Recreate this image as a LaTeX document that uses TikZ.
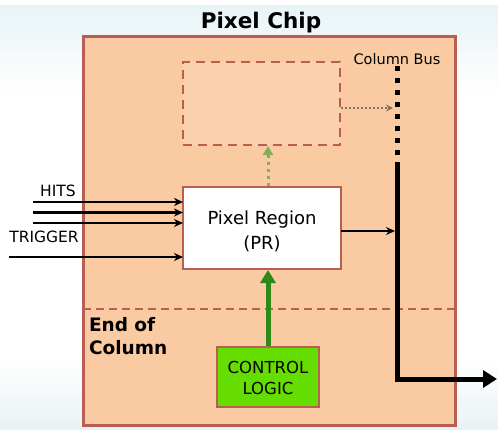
\documentclass[tikz,border=0pt]{standalone}
\usepackage{fontspec}
\setmainfont{DejaVu Sans}
\usetikzlibrary{arrows.meta}
\definecolor{chipfill}{RGB}{250,202,162}
\definecolor{chipborder}{RGB}{184,94,82}
\definecolor{dboxfill}{RGB}{251,208,172}
\definecolor{ctrlgreen}{RGB}{102,221,0}
\definecolor{arrgreen}{RGB}{46,138,22}
\definecolor{dotgreen}{RGB}{132,174,92}
\definecolor{dotgray}{RGB}{135,112,100}
\definecolor{bgblue}{RGB}{232,243,246}
\begin{document}
\begin{tikzpicture}[x=1pt,y=-1pt,
  boxstyle/.style={draw=chipborder, line width=2.5pt, inner sep=0pt, outer sep=0pt},
  sig/.style={line width=2.2pt, -{Stealth[length=9pt,width=8pt]}},
  busline/.style={line width=5pt},
  lbl/.style={inner sep=0pt, outer sep=0pt},
  dashln/.style={draw=chipborder, line width=2.5pt, dash pattern=on 8pt off 5pt}]
\useasboundingbox (0,0) rectangle (498,429);
\shade[top color=bgblue, bottom color=white] (0,5) rectangle (498,95);
\shade[top color=white, bottom color=bgblue] (0,360) rectangle (498,429);
% chip
\node[boxstyle, line width=3pt, fill=chipfill, minimum width=372pt, minimum height=389pt] (chip) at (269,230.5) {};
\node[lbl, font=\bfseries\fontsize{21.5}{24}\selectfont] (title) at (261,23) {Pixel Chip};
% end of column separator
\coordinate (sepL) at (83,309);
\coordinate (sepR) at (455,309);
\draw[dashln] (sepL) -- (sepR);
\node[lbl, anchor=north west, align=left, font=\bfseries\fontsize{18.5}{23}\selectfont] (eoc) at (89,317) {End of\\Column};
% dashed box
\node[draw=chipborder, line width=2.5pt, dash pattern=on 9pt off 6pt, fill=dboxfill, minimum width=157pt, minimum height=83pt, inner sep=0pt, outer sep=0pt] (dbox) at (261.5,103.5) {};
% pixel region
\node[boxstyle, fill=white, minimum width=158pt, minimum height=82pt] (pr) at (262,228) {};
\node[lbl, align=center, font=\fontsize{18}{25}\selectfont] (prtext) at (262,231) {Pixel Region\\(PR)};
% control logic
\node[boxstyle, fill=ctrlgreen, minimum width=102pt, minimum height=60pt] (ctrl) at (268,377) {};
\node[lbl, align=center, font=\fontsize{16.5}{21}\selectfont] (ctrltext) at (268,378) {CONTROL\\LOGIC};
% column bus
\node[lbl, font=\fontsize{14.5}{16}\selectfont] (buslbl) at (397,59) {Column Bus};
\coordinate (bustop) at (397,66);
\coordinate (busdotend) at (397,158);
\coordinate (bussolid) at (397,162);
\coordinate (buscorner) at (397,379);
\coordinate (busout) at (497,379);
\draw[busline, dash pattern=on 5pt off 7pt] (bustop) -- (busdotend);
\draw[busline, miter limit=10, -{Triangle[length=14pt,width=17pt]}] (bussolid) -- (buscorner) -- (busout);
% inputs
\coordinate (h1) at (33,202);
\coordinate (h2) at (33,212.5);
\coordinate (h3) at (33,223);
\coordinate (tr) at (9,257);
\draw[sig] (h1) -- (h1 -| pr.west);
\draw[sig] (h2) -- (h2 -| pr.west);
\draw[sig] (h3) -- (h3 -| pr.west);
\draw[sig] (tr) -- (tr -| pr.west);
\node[lbl, font=\fontsize{15.5}{18}\selectfont] (hits) at (58,191) {HITS};
\node[lbl, font=\fontsize{15.5}{18}\selectfont] (trig) at (44,237) {TRIGGER};
% PR to bus
\coordinate (prout) at (341,231);
\coordinate (busin) at (395,231);
\draw[sig] (prout) -- (busin);
% dashed box to bus
\coordinate (dout) at (341,108);
\coordinate (dbin) at (393,108);
\draw[dotgray, line width=1.6pt, dash pattern=on 2pt off 2pt, -{Stealth[open,length=7pt,width=7pt]}] (dout) -- (dbin);
% PR up to dashed box (dotted green)
\coordinate (prtop) at (268,186);
\coordinate (dbot) at (268,146);
\draw[dotgreen, line width=3pt, dash pattern=on 3pt off 4pt, -{Triangle[length=9pt,width=10pt]}] (prtop) -- (dbot);
% control logic to PR
\coordinate (ctop) at (268,346);
\coordinate (prbot) at (268,270);
\draw[arrgreen, line width=5pt, -{Triangle[length=13pt,width=15pt]}] (ctop) -- (prbot);
\end{tikzpicture}
\end{document}
